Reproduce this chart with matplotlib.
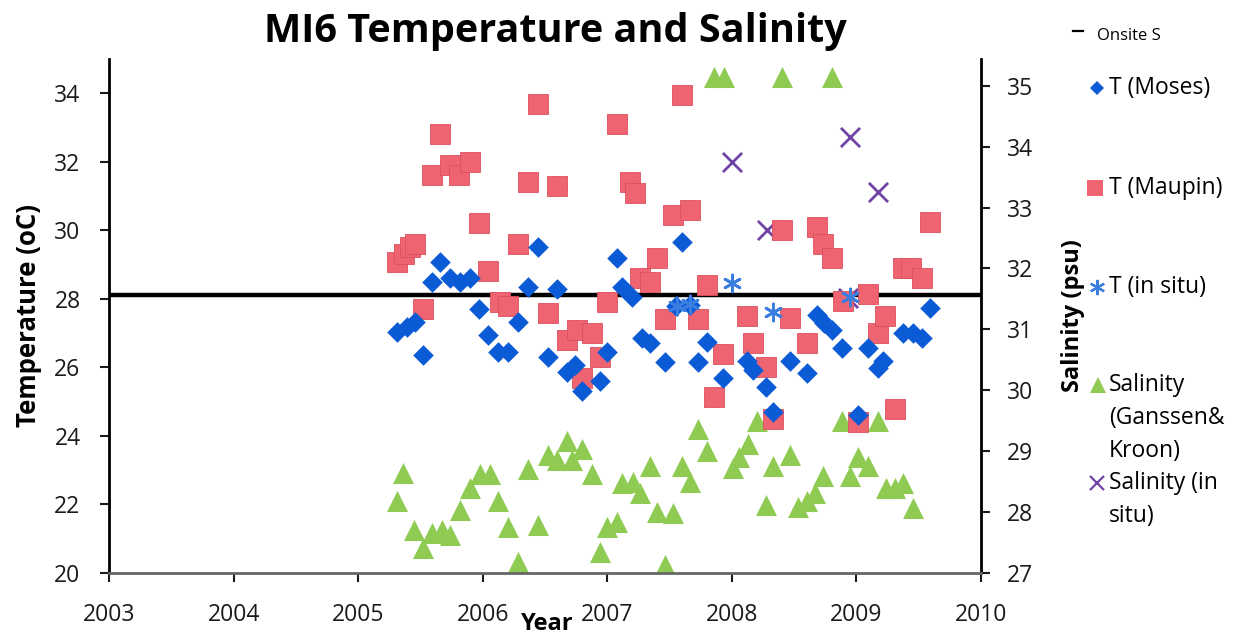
import matplotlib.pyplot as plt
from matplotlib.lines import Line2D

plt.rcParams["font.family"] = ["Open Sans", "DejaVu Sans"]

# T (Moses) - decimal year, temperature (oC)
moses_year = [2005.31, 2005.39, 2005.46, 2005.52, 2005.59, 2005.66, 2005.74, 2005.82, 2005.90,
              2005.97, 2006.04, 2006.12, 2006.20, 2006.28, 2006.36, 2006.44, 2006.52, 2006.60,
              2006.68, 2006.74, 2006.80, 2006.94, 2007.00, 2007.08, 2007.12, 2007.20, 2007.28,
              2007.34, 2007.46, 2007.55, 2007.60, 2007.66, 2007.73, 2007.80, 2007.93, 2008.12,
              2008.17, 2008.27, 2008.33, 2008.47, 2008.60, 2008.68, 2008.74, 2008.80, 2008.88,
              2009.01, 2009.09, 2009.17, 2009.21, 2009.37, 2009.45, 2009.53, 2009.59]
moses_t = [27.04, 27.18, 27.33, 26.36, 28.5, 29.08, 28.6, 28.5, 28.6,
           27.7, 26.95, 26.45, 26.45, 27.33, 28.35, 29.52, 26.3, 28.3,
           25.87, 26.07, 25.3, 25.6, 26.45, 29.2, 28.35, 28.05, 26.86,
           26.7, 26.16, 27.8, 29.66, 27.83, 26.16, 26.74, 25.7, 26.2,
           25.93, 25.43, 24.7, 26.2, 25.83, 27.53, 27.3, 27.1, 26.57,
           24.6, 26.57, 25.98, 26.2, 27.0, 27.0, 26.86, 27.74]

# T (Maupin)
maupin_year = [2005.31, 2005.37, 2005.42, 2005.46, 2005.52, 2005.59, 2005.66, 2005.74, 2005.81,
               2005.90, 2005.97, 2006.04, 2006.14, 2006.20, 2006.28, 2006.36, 2006.44, 2006.52,
               2006.60, 2006.68, 2006.76, 2006.80, 2006.88, 2006.94, 2007.00, 2007.08, 2007.18,
               2007.22, 2007.26, 2007.34, 2007.40, 2007.46, 2007.53, 2007.60, 2007.66, 2007.73,
               2007.80, 2007.86, 2007.93, 2008.12, 2008.17, 2008.27, 2008.33, 2008.40, 2008.47,
               2008.60, 2008.68, 2008.73, 2008.80, 2008.89, 2009.01, 2009.09, 2009.17, 2009.23,
               2009.31, 2009.37, 2009.44, 2009.53, 2009.59]
maupin_t = [29.08, 29.3, 29.5, 29.6, 27.7, 31.6, 32.8, 31.9, 31.6,
            32.0, 30.2, 28.8, 27.9, 27.8, 29.6, 31.4, 33.7, 27.6,
            31.3, 26.8, 27.1, 25.7, 27.0, 26.3, 27.9, 33.1, 31.4,
            31.1, 28.6, 28.5, 29.2, 27.4, 30.45, 33.95, 30.6, 27.4,
            28.4, 25.15, 26.4, 27.5, 26.7, 26.0, 24.5, 30.0, 27.45,
            26.7, 30.1, 29.6, 29.2, 27.95, 24.4, 28.15, 27.0, 27.5,
            24.8, 28.9, 28.9, 28.6, 30.25]

# T (in situ)
insitu_t_year = [2007.56, 2007.66, 2008.00, 2008.33, 2008.95]
insitu_t = [27.8, 27.85, 28.47, 27.62, 28.05]

# Salinity (Ganssen & Kroon), psu
gk_year = [2005.31, 2005.36, 2005.45, 2005.52, 2005.59, 2005.67, 2005.74, 2005.82, 2005.90,
           2005.98, 2006.06, 2006.12, 2006.20, 2006.28, 2006.36, 2006.44, 2006.52, 2006.60,
           2006.68, 2006.72, 2006.80, 2006.88, 2006.94, 2007.00, 2007.08, 2007.12, 2007.21,
           2007.26, 2007.34, 2007.40, 2007.46, 2007.53, 2007.60, 2007.66, 2007.73, 2007.80,
           2007.86, 2007.94, 2008.01, 2008.06, 2008.13, 2008.20, 2008.27, 2008.33, 2008.40,
           2008.47, 2008.53, 2008.60, 2008.67, 2008.73, 2008.80, 2008.88, 2008.95, 2009.01,
           2009.09, 2009.17, 2009.24, 2009.31, 2009.37, 2009.45]
gk_sal = [28.19, 28.65, 27.7, 27.41, 27.65, 27.7, 27.62, 28.03, 28.4,
          28.63, 28.63, 28.19, 27.75, 27.18, 28.7, 27.78, 28.93, 28.85,
          29.17, 28.85, 29.04, 28.63, 27.34, 27.75, 27.83, 28.47, 28.5,
          28.32, 28.76, 28.0, 27.13, 27.98, 28.76, 28.49, 29.37, 29.0,
          35.15, 35.15, 28.72, 28.9, 29.12, 29.5, 28.11, 28.76, 35.15,
          28.93, 28.08, 28.19, 28.31, 28.6, 35.15, 29.5, 28.6, 28.9,
          28.76, 29.5, 28.4, 28.4, 28.47, 28.06]

# Salinity (in situ)
insitu_s_year = [2008.00, 2008.28, 2008.93, 2008.95, 2009.17]
insitu_s = [33.75, 32.64, 31.52, 34.16, 33.26]

# Onsite S reference level
onsite_s = 31.57

fig = plt.figure(figsize=(12.39, 6.39), dpi=100)
ax = fig.add_axes([0.088, 0.1033, 0.7038, 0.8044])
ax2 = ax.twinx()

blue = "#0B5AD6"
red = "#EE6470"
green = "#8FCB53"
purple = "#7044A6"
star = "#3A7EE0"

ax2.plot([2003, 2010], [onsite_s, onsite_s], color="black", lw=3.2, zorder=1)

ax.scatter(maupin_year, maupin_t, marker="s", s=215, color=red, edgecolors="#D9515D", linewidths=0.6, zorder=3)
ax.scatter(moses_year, moses_t, marker="D", s=110, color=blue, linewidths=0, zorder=4)
ax.scatter(insitu_t_year, insitu_t, marker=(6, 2, 0), s=150, color=star, linewidths=2.0, zorder=5)
ax2.scatter(gk_year, gk_sal, marker="^", s=230, color=green, linewidths=0, zorder=2)
ax2.scatter(insitu_s_year, insitu_s, marker="x", s=190, color=purple, linewidths=2.0, zorder=3)

ax.set_xlim(2003, 2010)
ax.set_ylim(20, 35)
ax2.set_ylim(27, 35.44)
ax.set_xticks(range(2003, 2011))
ax.set_yticks(range(20, 35, 2))
ax2.set_yticks(range(27, 36))

ax.set_zorder(ax2.get_zorder() + 1)
ax.patch.set_visible(False)

for a in (ax, ax2):
    a.spines["top"].set_visible(False)
    a.tick_params(labelsize=16.5, width=1.5, length=6.5, colors="#1a1a1a")
ax.spines["left"].set_linewidth(2)
ax.spines["bottom"].set_linewidth(2)
ax.spines["bottom"].set_color("#666666")
ax2.spines["right"].set_linewidth(2)
ax2.spines["left"].set_visible(False)
ax2.spines["bottom"].set_visible(False)
ax.tick_params(axis="x", pad=15)
ax.tick_params(axis="y", pad=14)
ax2.tick_params(axis="y", pad=12)

fig.text(0.448, 0.951, "MI6 Temperature and Salinity", fontsize=28.5, fontweight="bold",
         ha="center", va="center")
ax.set_xlabel("Year", fontsize=17, fontweight="bold")
ax.xaxis.set_label_coords(0.503, -0.076)
ax.set_ylabel("Temperature (oC)", fontsize=18.5, fontweight="bold", labelpad=9)
ax2.set_ylabel("Salinity (psu)", fontsize=17, fontweight="bold", labelpad=20, y=0.5)

# Legend drawn beside the plot, one key per series
line_step = 0.0516
legend_rows = [
    ("D", ["T (Moses)"], 0.862),
    ("s", ["T (Maupin)"], 0.706),
    ("star", ["T (in situ)"], 0.551),
    ("^", ["Salinity", "(Ganssen&", "Kroon)"], 0.397),
    ("x", ["Salinity (in", "situ)"], 0.244),
]
key_x = 0.885
text_x = 0.895

fig.add_artist(Line2D([0.866, 0.874], [0.951, 0.951], color="black", lw=1.6))
fig.text(0.885, 0.944, "Onsite S", fontsize=12, va="center", ha="left")

for kind, lines, yk in legend_rows:
    if kind == "D":
        h = Line2D([key_x], [yk], marker="D", ms=7.5, color=blue, mew=0)
    elif kind == "s":
        h = Line2D([key_x - 0.001], [yk], marker="s", ms=11, color=red, mew=0)
    elif kind == "star":
        h = Line2D([key_x], [yk], marker=(6, 2, 0), ms=11, color=star, mew=1.6)
    elif kind == "^":
        h = Line2D([key_x + 0.001], [yk], marker="^", ms=11, color=green, mew=0)
    else:
        h = Line2D([key_x], [yk], marker="x", ms=10, color=purple, mew=1.6)
    fig.add_artist(h)
    for i, txt in enumerate(lines):
        fig.text(text_x, yk - i * line_step, txt, fontsize=16.5, va="center", ha="left")

fig.savefig("out.png", dpi=100)
